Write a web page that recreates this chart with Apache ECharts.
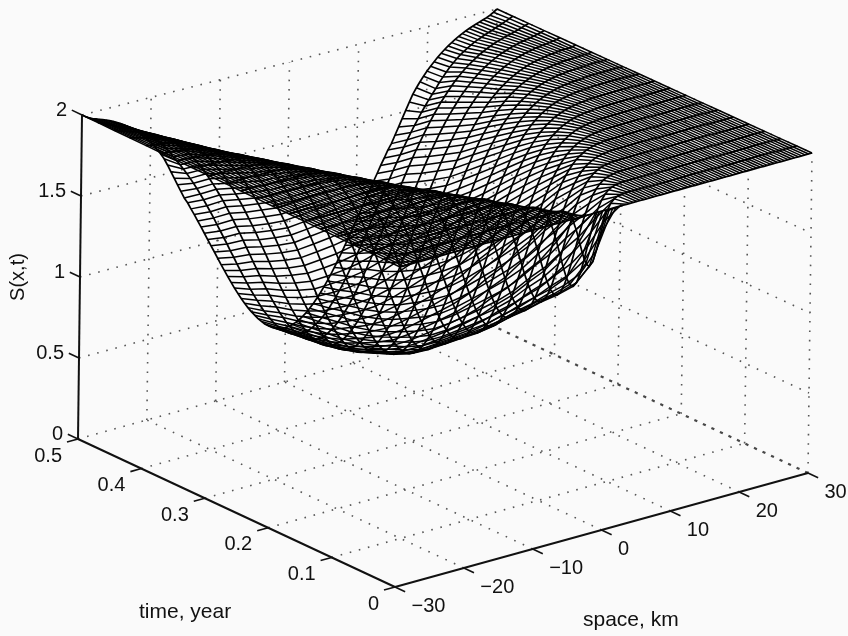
<!DOCTYPE html>
<html><head><meta charset="utf-8">
<style>html,body{margin:0;padding:0;background:#fafafa}#c{width:848px;height:636px;filter:blur(0.45px)}</style>
<script src="https://cdn.jsdelivr.net/npm/echarts@6/dist/echarts.min.js"></script>
</head><body><div id="c"></div>
<script>
// Axis ticks
const xTicks=[-30,-20,-10,0,10,20,30];
const xTickLabels=['\u221230','\u221220','\u221210','0','10','20','30'];
const tTicks=[0,0.1,0.2,0.3,0.4,0.5];
const tTickLabels=['0','0.1','0.2','0.3','0.4','0.5'];
const zTicks=[0,0.5,1,1.5,2];
const zTickLabels=['0','0.5','1','1.5','2'];
// Surface S(x,t). Each list is one time level, from x=0 outward in 0.5 km steps; beyond the list S stays 2.
const tLevels=[0,0.025,0.05,0.075,0.1,0.125,0.15,0.175,0.2,0.225,0.25,0.275,0.3,0.325,0.35,0.375,0.4,0.425,0.45,0.475,0.5];
const xStep=0.5, xSamples=121;
const S_t000=[2];
const S_t025=[1.6,1.625,1.69,1.775,1.856,1.919,1.96,1.982,1.993,1.998,1.999];
const S_t050=[1.43,1.448,1.497,1.57,1.654,1.739,1.815,1.877,1.923,1.954,1.975,1.987,1.994,1.997,1.999,1.999];
const S_t075=[1.33,1.342,1.378,1.433,1.502,1.578,1.656,1.729,1.795,1.85,1.895,1.928,1.953,1.971,1.982,1.989,1.994,1.997,1.998,1.999];
const S_t100=[1.24,1.25,1.279,1.324,1.383,1.451,1.524,1.598,1.669,1.735,1.793,1.843,1.883,1.916,1.941,1.959,1.973,1.983,1.989,1.993,1.996,1.998,1.998,1.999];
const S_t125=[1.14,1.148,1.171,1.208,1.257,1.315,1.381,1.45,1.521,1.59,1.655,1.715,1.77,1.816,1.856,1.89,1.917,1.939,1.955,1.968,1.978,1.985,1.99,1.993,1.996,1.997,1.998,1.999,1.999];
const S_t150=[1.05,1.057,1.077,1.109,1.152,1.204,1.264,1.328,1.397,1.465,1.533,1.597,1.658,1.713,1.763,1.807,1.845,1.877,1.904,1.927,1.944,1.958,1.97,1.978,1.984,1.989,1.992,1.995,1.996,1.998,1.998,1.999,1.999];
const S_t175=[0.95,0.955,0.972,1.0,1.037,1.083,1.137,1.196,1.258,1.324,1.39,1.455,1.519,1.58,1.638,1.69,1.739,1.782,1.819,1.852,1.88,1.904,1.924,1.94,1.954,1.964,1.973,1.98,1.985,1.989,1.992,1.994,1.996,1.997,1.998,1.999,1.999,1.999];
const S_t200=[0.86,0.865,0.88,0.904,0.939,0.98,1.029,1.083,1.143,1.205,1.269,1.335,1.399,1.463,1.523,1.582,1.635,1.685,1.731,1.772,1.807,1.84,1.868,1.892,1.912,1.929,1.944,1.956,1.966,1.973,1.979,1.984,1.988,1.991,1.993,1.995,1.996,1.997,1.998,1.999,1.999];
const S_t225=[0.78,0.785,0.798,0.82,0.851,0.889,0.933,0.984,1.039,1.097,1.158,1.222,1.285,1.349,1.411,1.472,1.529,1.583,1.634,1.682,1.724,1.763,1.799,1.829,1.856,1.88,1.901,1.918,1.934,1.946,1.957,1.966,1.973,1.979,1.983,1.987,1.99,1.992,1.994,1.996,1.997,1.998,1.998,1.999,1.999];
const S_t250=[0.7,0.704,0.717,0.736,0.764,0.799,0.839,0.886,0.938,0.992,1.051,1.112,1.175,1.237,1.299,1.36,1.42,1.477,1.532,1.583,1.631,1.676,1.717,1.754,1.788,1.818,1.845,1.869,1.89,1.908,1.923,1.938,1.948,1.958,1.966,1.973,1.978,1.983,1.986,1.989,1.992,1.994,1.995,1.996,1.997,1.998,1.998,1.999,1.999];
const S_t275=[0.62,0.624,0.635,0.653,0.678,0.71,0.748,0.791,0.839,0.892,0.947,1.005,1.064,1.126,1.187,1.249,1.31,1.368,1.426,1.48,1.532,1.58,1.627,1.67,1.709,1.745,1.778,1.808,1.834,1.858,1.879,1.897,1.913,1.927,1.939,1.95,1.959,1.966,1.972,1.977,1.982,1.985,1.988,1.991,1.993,1.994,1.995,1.997,1.997,1.998,1.998,1.999,1.999];
const S_t300=[0.55,0.553,0.563,0.58,0.604,0.633,0.667,0.708,0.752,0.801,0.853,0.908,0.966,1.024,1.085,1.145,1.205,1.265,1.323,1.378,1.433,1.485,1.535,1.581,1.624,1.665,1.703,1.738,1.769,1.798,1.825,1.848,1.869,1.887,1.904,1.918,1.931,1.942,1.951,1.959,1.966,1.972,1.977,1.981,1.984,1.987,1.99,1.992,1.993,1.995,1.996,1.997,1.997,1.998,1.998,1.999,1.999];
const S_t325=[0.5,0.503,0.512,0.527,0.548,0.575,0.607,0.644,0.685,0.73,0.779,0.83,0.884,0.94,0.998,1.055,1.114,1.172,1.229,1.286,1.34,1.394,1.445,1.495,1.541,1.585,1.627,1.664,1.7,1.733,1.765,1.792,1.817,1.84,1.861,1.879,1.895,1.91,1.923,1.934,1.944,1.953,1.96,1.967,1.972,1.977,1.981,1.984,1.987,1.989,1.991,1.993,1.994,1.995,1.996,1.997,1.998,1.998,1.998,1.999,2];
const S_t350=[0.46,0.463,0.471,0.485,0.505,0.528,0.557,0.591,0.629,0.671,0.716,0.763,0.814,0.867,0.92,0.976,1.031,1.088,1.145,1.201,1.255,1.309,1.359,1.41,1.458,1.504,1.549,1.59,1.629,1.666,1.7,1.731,1.76,1.787,1.812,1.834,1.854,1.872,1.888,1.903,1.916,1.927,1.937,1.946,1.954,1.961,1.967,1.972,1.976,1.98,1.984,1.986,1.989,1.991,1.992,1.994,1.995,1.996,1.997,1.997,2];
const S_t375=[0.42,0.423,0.43,0.442,0.461,0.483,0.51,0.54,0.575,0.614,0.655,0.7,0.747,0.798,0.848,0.9,0.954,1.009,1.063,1.118,1.172,1.224,1.276,1.327,1.376,1.423,1.469,1.513,1.554,1.594,1.63,1.665,1.698,1.728,1.757,1.782,1.806,1.826,1.847,1.864,1.88,1.896,1.908,1.92,1.931,1.94,1.948,1.955,1.962,1.967,1.972,1.976,1.98,1.983,1.986,1.988,1.99,1.992,1.993,1.995,2];
const S_t400=[0.39,0.392,0.4,0.411,0.427,0.448,0.474,0.503,0.535,0.572,0.611,0.654,0.699,0.746,0.794,0.846,0.897,0.95,1.002,1.055,1.108,1.161,1.213,1.263,1.312,1.361,1.408,1.453,1.494,1.535,1.573,1.61,1.644,1.678,1.709,1.736,1.763,1.787,1.81,1.829,1.849,1.865,1.881,1.895,1.908,1.919,1.929,1.938,1.946,1.953,1.96,1.965,1.97,1.975,1.978,1.981,1.984,1.987,1.991,1.995,2];
const S_t425=[0.37,0.372,0.378,0.39,0.404,0.424,0.448,0.474,0.505,0.54,0.577,0.616,0.658,0.704,0.75,0.799,0.848,0.898,0.95,1.001,1.053,1.104,1.154,1.205,1.253,1.301,1.348,1.394,1.438,1.478,1.519,1.557,1.594,1.628,1.659,1.69,1.72,1.746,1.77,1.793,1.814,1.834,1.851,1.867,1.882,1.895,1.907,1.919,1.928,1.937,1.945,1.952,1.958,1.964,1.969,1.973,1.977,1.983,1.988,1.994,2];
const S_t450=[0.36,0.362,0.368,0.378,0.393,0.411,0.432,0.457,0.486,0.517,0.554,0.59,0.631,0.672,0.716,0.762,0.809,0.857,0.906,0.955,1.005,1.055,1.105,1.154,1.201,1.249,1.295,1.341,1.385,1.426,1.467,1.506,1.544,1.58,1.613,1.646,1.675,1.703,1.731,1.756,1.779,1.8,1.82,1.837,1.854,1.869,1.884,1.896,1.908,1.918,1.928,1.937,1.944,1.951,1.957,1.963,1.97,1.977,1.984,1.992,2];
const S_t475=[0.35,0.352,0.357,0.366,0.38,0.395,0.414,0.437,0.462,0.492,0.523,0.556,0.593,0.632,0.672,0.713,0.757,0.802,0.847,0.893,0.941,0.987,1.035,1.081,1.127,1.173,1.22,1.264,1.307,1.35,1.391,1.431,1.469,1.505,1.541,1.574,1.607,1.637,1.667,1.7,1.728,1.755,1.78,1.802,1.823,1.842,1.856,1.871,1.885,1.898,1.908,1.918,1.928,1.936,1.943,1.953,1.962,1.971,1.98,1.99,2];
const S_t500=[0.34,0.342,0.347,0.355,0.366,0.381,0.398,0.42,0.443,0.47,0.498,0.529,0.562,0.597,0.635,0.674,0.715,0.757,0.8,0.843,0.888,0.933,0.977,1.022,1.067,1.112,1.155,1.2,1.241,1.285,1.32,1.367,1.413,1.46,1.506,1.553,1.597,1.632,1.664,1.693,1.72,1.745,1.768,1.79,1.81,1.828,1.845,1.86,1.875,1.888,1.9,1.911,1.921,1.93,1.938,1.946,1.954,1.962,1.972,1.985,2];
const surfaceRows=[S_t000,S_t025,S_t050,S_t075,S_t100,S_t125,S_t150,S_t175,S_t200,S_t225,S_t250,S_t275,S_t300,S_t325,S_t350,S_t375,S_t400,S_t425,S_t450,S_t475,S_t500];
const xMid=(xSamples-1)/2;
function xAt(i){return (i-xMid)*xStep;}
function sAt(i,j){const k=Math.abs(i-xMid),r=surfaceRows[j];return k<r.length?r[k]:2;}

// View: where the eight box corners fall on the page (used as a projection of the data).
const boxFloor=[[[395,587],[78,439]],[[808,473],[491,325]]];
const boxTop=[[[400,267],[82,115]],[[812,153],[497,9]]];
function project(x,t,z){
  const u=(x+30)/60,v=t/0.5,w=z/2,out=[0,0];
  for(let d=0;d<2;d++){
    const f=(1-u)*((1-v)*boxFloor[0][0][d]+v*boxFloor[0][1][d])+u*((1-v)*boxFloor[1][0][d]+v*boxFloor[1][1][d]);
    const g=(1-u)*((1-v)*boxTop[0][0][d]+v*boxTop[0][1][d])+u*((1-v)*boxTop[1][0][d]+v*boxTop[1][1][d]);
    out[d]=(1-w)*f+w*g;
  }
  return out;
}

const nT=tLevels.length;
const series=[];
function seg(points,o){
  series.push({type:'line',coordinateSystem:'cartesian2d',silent:true,showSymbol:false,symbol:'none',animation:false,z:o.z,
    data:points,lineStyle:{color:o.color,width:o.width,type:o.dash||'solid',cap:o.cap||'butt',join:'round',opacity:o.opacity==null?1:o.opacity}});
}
const dot={z:1,color:'#3a3a3a',width:1.6,dash:[1.6,7.8],opacity:0.85};
const heavy={z:1,color:'#333',width:2.2,dash:[3.2,6.2],opacity:0.9};
// floor
tTicks.slice(1,-1).forEach(t=>seg([project(-30,t,0),project(30,t,0)],dot));
xTicks.slice(1,-1).forEach(x=>seg([project(x,0,0),project(x,0.5,0)],dot));
seg([project(-30,0.5,0),project(30,0.5,0)],dot);
seg([project(30,0,0),project(30,0.5,0)],heavy);
// back walls
zTicks.slice(1).forEach(z=>{seg([project(-30,0.5,z),project(30,0.5,z)],dot);seg([project(30,0.5,z),project(30,0,z)],dot);});
xTicks.slice(1).forEach(x=>seg([project(x,0.5,0),project(x,0.5,2)],dot));
tTicks.slice(0,-1).forEach(t=>seg([project(30,t,0),project(30,t,2)],dot));
// axes
const axisStyle={z:5,color:'#111',width:2};
seg([project(-30,0.5,0),project(-30,0.5,2)],axisStyle);
seg([project(-30,0,0),project(-30,0.5,0)],axisStyle);
seg([project(-30,0,0),project(30,0,0)],axisStyle);
const tickStyle={z:5,color:'#111',width:1.6};
const mirror=(a,b)=>b.map((v,d)=>2*a[d]-v);
zTicks.forEach(z=>seg([project(-30,0.5,z),project(-30,0.516,z)],tickStyle));
tTicks.forEach(t=>seg([project(-30,t,0),mirror(project(-30,t,0),project(-28.4,t,0))],tickStyle));
xTicks.forEach(x=>seg([project(x,0,0),mirror(project(x,0,0),project(x,0.016,0))],tickStyle));

// surface mesh (see-through): one line per time level and one per space sample
const meshT={z:3,color:'#000',width:1.75};
const meshX={z:3,color:'#000',width:1.5};
for(let j=0;j<nT;j++){const pts=[];for(let i=0;i<xSamples;i++)pts.push(project(xAt(i),tLevels[j],sAt(i,j)));seg(pts,meshT);}
for(let i=0;i<xSamples;i++){const pts=[];for(let j=0;j<nT;j++)pts.push(project(xAt(i),tLevels[j],sAt(i,j)));seg(pts,meshX);}

// tick labels
const font='20px "Liberation Sans", Arial, sans-serif';
function labels(list){
  series.push({type:'custom',coordinateSystem:'cartesian2d',silent:true,animation:false,z:6,clip:false,
    data:list.map((l,n)=>[l.p[0],l.p[1],n]),
    renderItem(params,api){
      const c=api.coord([api.value(0),api.value(1)]),l=list[api.value(2)];
      return {type:'text',x:c[0]+l.dx,y:c[1]+l.dy,style:{text:l.s,fill:'#111',font,textAlign:l.a,textVerticalAlign:'middle'}};
    }});
}
labels(xTicks.map((x,n)=>({p:project(x,0,0),s:xTickLabels[n],dx:16.5,dy:19.5,a:'left'})));
labels(tTicks.map((t,n)=>({p:project(-30,t,0),s:tTickLabels[n],dx:-16,dy:17,a:'right'})));
labels(zTicks.map((z,n)=>({p:project(-30,0.5,z),s:zTickLabels[n],dx:-15,dy:-5,a:'right'})));

const chart=echarts.init(document.getElementById('c'),null,{renderer:'canvas'});
chart.setOption({
  animation:false,backgroundColor:'#fafafa',
  grid:{left:0,right:0,top:0,bottom:0},
  xAxis:{type:'value',min:0,max:848,show:false},
  yAxis:{type:'value',min:0,max:636,inverse:true,show:false},
  graphic:[
    {type:'text',x:139,y:612,z:10,style:{text:'time, year',fill:'#111',font:'21px "Liberation Sans", Arial, sans-serif',textVerticalAlign:'middle'}},
    {type:'text',x:583,y:620,z:10,style:{text:'space, km',fill:'#111',font:'21px "Liberation Sans", Arial, sans-serif',textVerticalAlign:'middle'}},
    {type:'text',x:18,y:277,rotation:Math.PI/2,z:10,style:{text:'S(x,t)',fill:'#111',font:'20px "Liberation Sans", Arial, sans-serif',textAlign:'center',textVerticalAlign:'middle'}}
  ],
  series
});
</script></body></html>
